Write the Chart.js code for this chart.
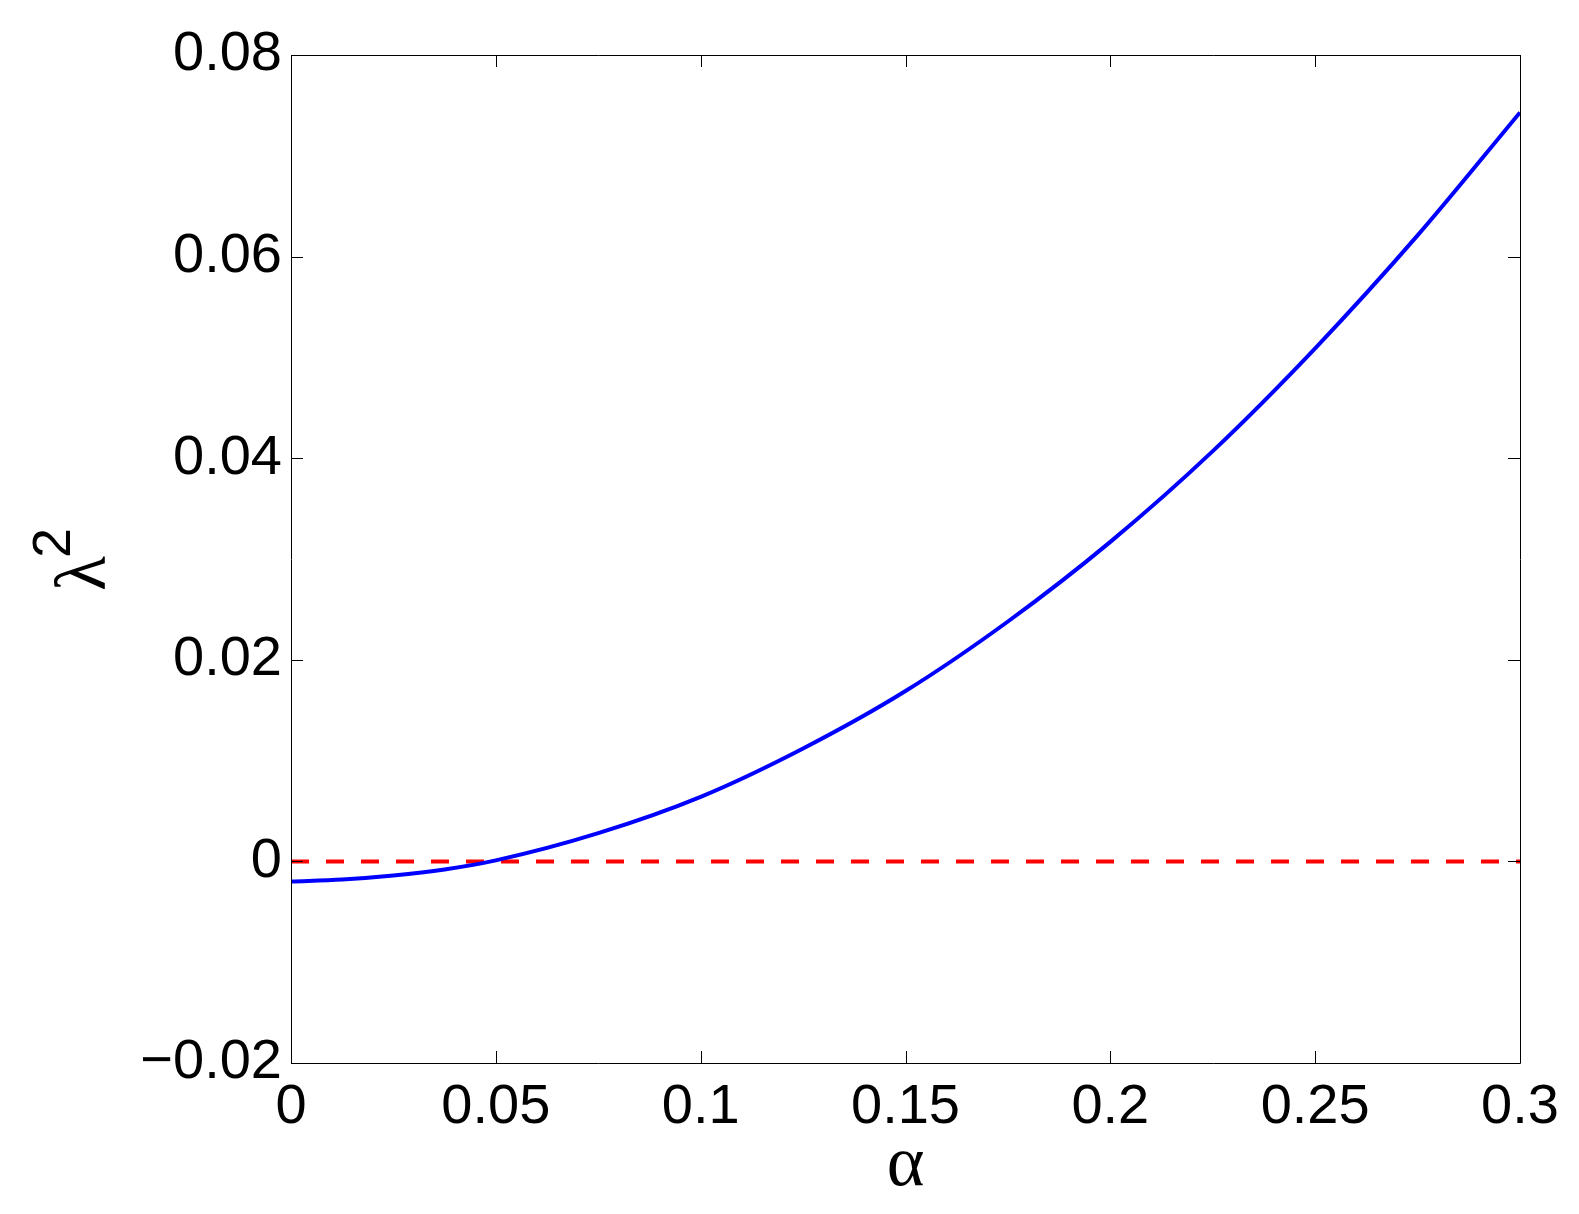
<!DOCTYPE html>
<html>
<head>
<meta charset="utf-8">
<script src="https://cdn.jsdelivr.net/npm/chart.js@4.4.1/dist/chart.umd.min.js"></script>
<style>
  html, body { margin: 0; padding: 0; background: #fff; }
  #wrap { width: 1579px; height: 1214px; }
</style>
</head>
<body>
<div id="wrap"><canvas id="lambdaChart" width="1579" height="1214"></canvas></div>
<script>
// values
const alpha = [0, 0.0125, 0.025, 0.0375, 0.05, 0.075, 0.1, 0.125, 0.15, 0.175, 0.2, 0.225, 0.25, 0.275, 0.3];
const lambda2 = [-0.0020, -0.0018, -0.0014, -0.0008, 0.0001, 0.0028, 0.0064, 0.0112, 0.0169, 0.0238, 0.0317, 0.0407, 0.0509, 0.0621, 0.0743];
const zeroX = [0, 0.3];
const zeroY = [0, 0];

const xTicks = [0, 0.05, 0.1, 0.15, 0.2, 0.25, 0.3];
const xTickLabels = ['0', '0.05', '0.1', '0.15', '0.2', '0.25', '0.3'];
const yTicks = [-0.02, 0, 0.02, 0.04, 0.06, 0.08];
const yTickLabels = ['\u22120.02', '0', '0.02', '0.04', '0.06', '0.08'];

const tickFont = { family: '"Liberation Sans", Arial, sans-serif', size: 56 };

function labelFor(values, labels, v) {
  const i = values.findIndex(t => Math.abs(t - v) < 1e-9);
  return i >= 0 ? labels[i] : '';
}

// MATLAB style box with inward ticks, plus axis titles
const matlabAxes = {
  id: 'matlabAxes',
  afterDraw(chart) {
    const { ctx, chartArea: a, scales } = chart;
    const len = 12;
    ctx.save();
    ctx.strokeStyle = '#000';
    ctx.lineWidth = 1;
    ctx.beginPath();
    ctx.rect(Math.round(a.left) + 0.5, Math.round(a.top) + 0.5,
             Math.round(a.right - a.left), Math.round(a.bottom - a.top));
    xTicks.forEach(v => {
      const x = Math.round(scales.x.getPixelForValue(v)) + 0.5;
      ctx.moveTo(x, a.bottom); ctx.lineTo(x, a.bottom - len);
      ctx.moveTo(x, a.top); ctx.lineTo(x, a.top + len);
    });
    yTicks.forEach(v => {
      const y = Math.round(scales.y.getPixelForValue(v)) + 0.5;
      ctx.moveTo(a.left, y); ctx.lineTo(a.left + len, y);
      ctx.moveTo(a.right, y); ctx.lineTo(a.right - len, y);
    });
    ctx.stroke();

    // x title
    ctx.fillStyle = '#000';
    ctx.font = '72px "Liberation Serif", "Times New Roman", serif';
    ctx.textAlign = 'center';
    ctx.textBaseline = 'alphabetic';
    ctx.fillText('\u03b1', (a.left + a.right) / 2, 1185);

    // y title: lambda squared, rotated
    ctx.translate(105, 591);
    ctx.rotate(-Math.PI / 2);
    ctx.textAlign = 'left';
    ctx.fillText('\u03bb', 0, 0);
    const w = ctx.measureText('\u03bb').width;
    ctx.font = '54px "Liberation Sans", Arial, sans-serif';
    ctx.fillText('2', w - 2, -35);
    ctx.restore();
  }
};

const ctx = document.getElementById('lambdaChart').getContext('2d');
new Chart(ctx, {
  type: 'scatter',
  data: {
    datasets: [
      {
        label: 'lambda2',
        data: alpha.map((a, i) => ({ x: a, y: lambda2[i] })),
        showLine: true,
        borderColor: '#0000ff',
        borderWidth: 4,
        pointRadius: 0,
        cubicInterpolationMode: 'monotone',
        order: 0
      },
      {
        label: 'zero',
        data: zeroX.map((a, i) => ({ x: a, y: zeroY[i] })),
        showLine: true,
        borderColor: '#ff0000',
        borderWidth: 4,
        borderDash: [18, 17],
        pointRadius: 0,
        order: 1
      }
    ]
  },
  options: {
    responsive: false,
    animation: false,
    layout: { padding: { left: 0, top: 55, right: 59, bottom: 0 } },
    plugins: {
      legend: { display: false },
      tooltip: { enabled: false }
    },
    scales: {
      x: {
        type: 'linear',
        min: 0,
        max: 0.3,
        afterBuildTicks(scale) { scale.ticks = xTicks.map(v => ({ value: v })); },
        afterFit(scale) { scale.height = 151; },
        grid: { display: false, drawTicks: false },
        border: { display: false },
        ticks: {
          font: tickFont,
          color: '#000',
          padding: 11,
          maxRotation: 0,
          autoSkip: false,
          callback: v => labelFor(xTicks, xTickLabels, v)
        }
      },
      y: {
        type: 'linear',
        min: -0.02,
        max: 0.08,
        afterBuildTicks(scale) { scale.ticks = yTicks.map(v => ({ value: v })); },
        afterFit(scale) { scale.width = 291; },
        grid: { display: false, drawTicks: false },
        border: { display: false },
        ticks: {
          font: tickFont,
          color: '#000',
          padding: 9,
          autoSkip: false,
          callback: v => labelFor(yTicks, yTickLabels, v)
        }
      }
    }
  },
  plugins: [matlabAxes]
});
</script>
</body>
</html>
